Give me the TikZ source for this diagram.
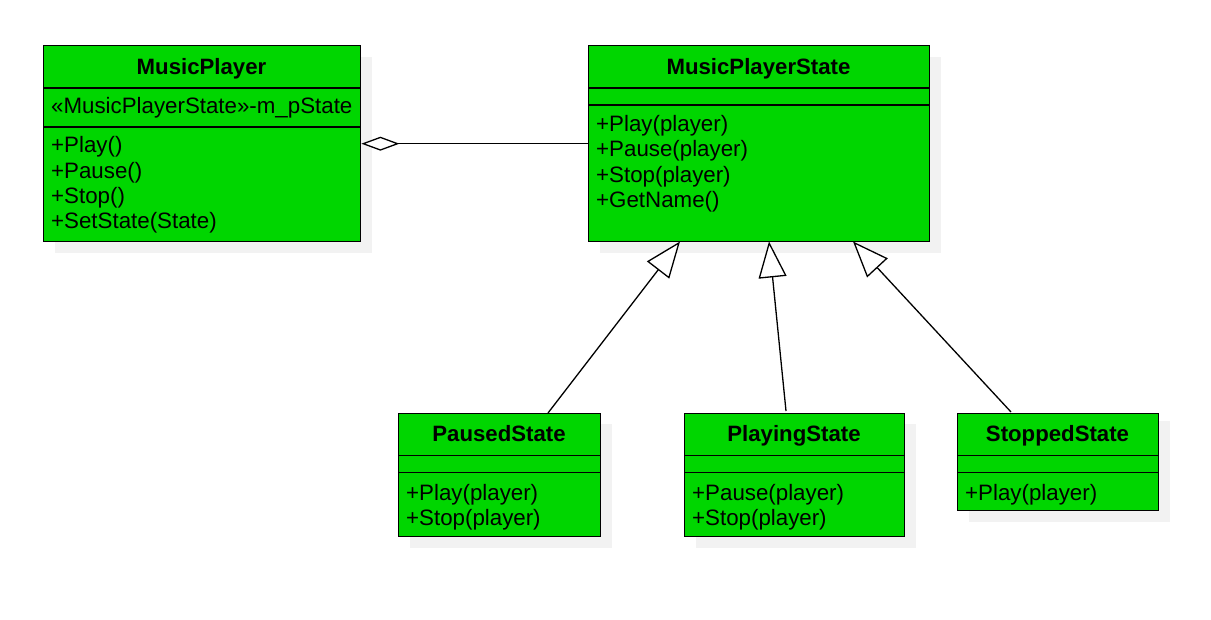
\documentclass[tikz,border=0pt]{standalone}
\usepackage{fontspec}
\setmainfont{Liberation Sans}
\usetikzlibrary{arrows.meta}
\definecolor{umlgreen}{RGB}{0,214,0}
\definecolor{shadowgray}{RGB}{242,242,242}
\begin{document}
\begin{tikzpicture}[x=1pt,y=-1pt,
  classbox/.style={draw=black, fill=umlgreen, line width=1.4pt, inner sep=0pt, anchor=north west},
  shade/.style={fill=shadowgray, draw=none},
  divider/.style={line width=1.4pt},
  title/.style={font=\fontsize{22.2}{25}\selectfont\bfseries, inner sep=0pt, anchor=base},
  member/.style={font=\fontsize{22.3}{25}\selectfont, inner sep=0pt, anchor=base west},
  link/.style={line width=1.3pt, draw=black},
  gen/.style={link, -{Triangle[length=36pt, width=28pt, fill=white, line width=1.3pt]}},
  agg/.style={link, {Diamond[length=38pt, width=14pt, fill=white, line width=1.3pt]}-},
]
\useasboundingbox (0,0) rectangle (1211,620);
\fill[white] (0,0) rectangle (1211,620);

% shadows
\fill[shade] (55,57) rectangle (372,253);
\fill[shade] (600,57) rectangle (941,253);
\fill[shade] (410,424) rectangle (612,548);
\fill[shade] (696,424) rectangle (916,548);
\fill[shade] (969,421) rectangle (1170,522);

% MusicPlayer
\node[classbox, minimum width=317pt, minimum height=196pt] (mp) at (43,45) {};
\draw[divider] (43,88) -- (360,88);
\draw[divider] (43,127) -- (360,127);
\node[title] (mpT) at (201.5,75) {MusicPlayer};
\node[member] (mpA) at (51,114) {«MusicPlayerState»-m\_pState};
\node[member] (mpM1) at (51,153) {+Play()};
\node[member] (mpM2) at (51,178.3) {+Pause()};
\node[member] (mpM3) at (51,203.6) {+Stop()};
\node[member] (mpM4) at (51,229) {+SetState(State)};

% MusicPlayerState
\node[classbox, minimum width=341pt, minimum height=196pt] (mps) at (588,45) {};
\draw[divider] (588,88) -- (929,88);
\draw[divider] (588,105) -- (929,105);
\node[title] (mpsT) at (758.5,75) {MusicPlayerState};
\node[member] (mpsM1) at (596,131.5) {+Play(player)};
\node[member] (mpsM2) at (596,156.8) {+Pause(player)};
\node[member] (mpsM3) at (596,182.1) {+Stop(player)};
\node[member] (mpsM4) at (596,207.4) {+GetName()};

% PausedState
\node[classbox, minimum width=202pt, minimum height=123pt] (ps) at (398,413) {};
\draw[divider] (398,455.5) -- (600,455.5);
\draw[divider] (398,472.5) -- (600,472.5);
\node[title] (psT) at (499,442) {PausedState};
\node[member] (psM1) at (406,500) {+Play(player)};
\node[member] (psM2) at (406,525.3) {+Stop(player)};

% PlayingState
\node[classbox, minimum width=220pt, minimum height=123pt] (pl) at (684,413) {};
\draw[divider] (684,455.5) -- (904,455.5);
\draw[divider] (684,472.5) -- (904,472.5);
\node[title] (plT) at (794,442) {PlayingState};
\node[member] (plM1) at (692,500) {+Pause(player)};
\node[member] (plM2) at (692,525.3) {+Stop(player)};

% StoppedState
\node[classbox, minimum width=201pt, minimum height=97pt] (ss) at (957,413) {};
\draw[divider] (957,455.5) -- (1158,455.5);
\draw[divider] (957,472.5) -- (1158,472.5);
\node[title] (ssT) at (1057.5,442) {StoppedState};
\node[member] (ssM1) at (965,500) {+Play(player)};

% connector end points
\coordinate (psTop) at (548,413);
\coordinate (plTop) at (786,411);
\coordinate (ssTop) at (1011,412);
\coordinate (mpsB1) at (680,241.5);
\coordinate (mpsB2) at (769,241.5);
\coordinate (mpsB3) at (853,241.5);

% aggregation
\draw[agg] (mp.east) -- (mps.west);

% generalizations
\draw[gen] (psTop) -- (mpsB1);
\draw[gen] (plTop) -- (mpsB2);
\draw[gen] (ssTop) -- (mpsB3);
\end{tikzpicture}
\end{document}
